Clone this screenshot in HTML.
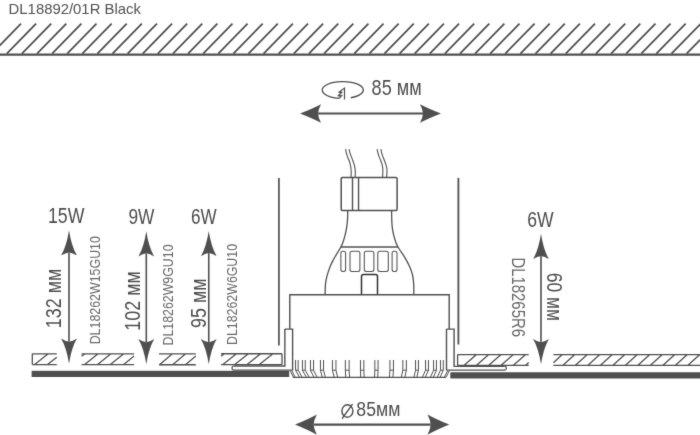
<!DOCTYPE html>
<html><head><meta charset="utf-8"><style>
html,body{margin:0;padding:0;background:#fff;}
svg{display:block;font-family:"Liberation Sans",sans-serif;will-change:transform;}
</style></head><body>
<svg width="700" height="435" viewBox="0 0 700 435">
<defs><filter id="b" x="0" y="0" width="700" height="435" filterUnits="userSpaceOnUse"><feConvolveMatrix order="3" kernelMatrix="0.01 0.08 0.01 0.08 0.64 0.08 0.01 0.08 0.01" edgeMode="duplicate"/></filter></defs>
<rect width="700" height="435" fill="#fff"/>
<g filter="url(#b)">
<path d="M-8.30 53.6L21.00 23.7 M6.81 53.6L36.11 23.7 M21.91 53.6L51.21 23.7 M37.02 53.6L66.32 23.7 M52.12 53.6L81.42 23.7 M67.23 53.6L96.53 23.7 M82.34 53.6L111.64 23.7 M97.44 53.6L126.74 23.7 M112.55 53.6L141.85 23.7 M127.65 53.6L156.95 23.7 M142.76 53.6L172.06 23.7 M157.87 53.6L187.17 23.7 M172.97 53.6L202.27 23.7 M188.08 53.6L217.38 23.7 M203.18 53.6L232.48 23.7 M218.29 53.6L247.59 23.7 M233.40 53.6L262.70 23.7 M248.50 53.6L277.80 23.7 M263.61 53.6L292.91 23.7 M278.71 53.6L308.01 23.7 M293.82 53.6L323.12 23.7 M308.93 53.6L338.23 23.7 M324.03 53.6L353.33 23.7 M339.14 53.6L368.44 23.7 M354.24 53.6L383.54 23.7 M369.35 53.6L398.65 23.7 M384.46 53.6L413.76 23.7 M399.56 53.6L428.86 23.7 M414.67 53.6L443.97 23.7 M429.77 53.6L459.07 23.7 M444.88 53.6L474.18 23.7 M459.99 53.6L489.29 23.7 M475.09 53.6L504.39 23.7 M490.20 53.6L519.50 23.7 M505.30 53.6L534.60 23.7 M520.41 53.6L549.71 23.7 M535.52 53.6L564.82 23.7 M550.62 53.6L579.92 23.7 M565.73 53.6L595.03 23.7 M580.83 53.6L610.13 23.7 M595.94 53.6L625.24 23.7 M611.05 53.6L640.35 23.7 M626.15 53.6L655.45 23.7 M641.26 53.6L670.56 23.7 M656.36 53.6L685.66 23.7 M671.47 53.6L700.77 23.7 M686.58 53.6L715.88 23.7 M701.68 53.6L730.98 23.7" stroke="#505050" stroke-width="1.75" fill="none"/>
<line x1="0" y1="54.55" x2="700" y2="54.55" stroke="#505050" stroke-width="2.2"/>
<line x1="318" y1="113.5" x2="423" y2="113.5" stroke="#505050" stroke-width="2.2"/><path d="M300.00 113.50 Q313.02 118.61 321.00 122.80 Q318.30 117.69 318.00 113.50 Q318.30 109.31 321.00 104.20 Q313.02 108.39 300.00 113.50Z" fill="#505050"/><path d="M441.00 113.50 Q427.98 108.39 420.00 104.20 Q422.70 109.31 423.00 113.50 Q422.70 117.69 420.00 122.80 Q427.98 118.61 441.00 113.50Z" fill="#505050"/>
<path d="M339.3 98.28 A20.6 8.4 0 1 1 350.7 97.75" stroke="#505050" stroke-width="1.3" fill="none"/>
<path d="M339.3 98.28 L341.6 95.6 L337.9 96.0 L342.2 92.0 L338.5 92.5 L344.5 88.1 L344.5 99.5" stroke="#505050" stroke-width="1.2" fill="none" stroke-linejoin="miter" stroke-miterlimit="3"/>
<g stroke="#4e4e4e" stroke-width="1.45" fill="none"><ellipse cx="347.4" cy="411" rx="5.5" ry="6.2"/><line x1="342.1" y1="418.6" x2="352.5" y2="404.1"/></g>
<line x1="313.6" y1="424.6" x2="430.7" y2="424.6" stroke="#505050" stroke-width="2.2"/><path d="M295.00 424.60 Q308.52 430.21 316.80 434.80 Q313.90 429.19 313.60 424.60 Q313.90 420.01 316.80 414.40 Q308.52 418.99 295.00 424.60Z" fill="#505050"/><path d="M449.30 424.60 Q435.78 418.99 427.50 414.40 Q430.40 420.01 430.70 424.60 Q430.40 429.19 427.50 434.80 Q435.78 430.21 449.30 424.60Z" fill="#505050"/>
<line x1="278.9" y1="177.9" x2="278.9" y2="345.6" stroke="#505050" stroke-width="1.7"/>
<line x1="458.4" y1="177.9" x2="458.4" y2="344.5" stroke="#505050" stroke-width="1.8"/>
<g stroke="#505050" stroke-width="1.1" fill="none"><path d="M345.60 149.10 C345.70 149.63 345.90 151.08 346.20 152.30 C346.50 153.52 346.92 155.03 347.40 156.40 C347.88 157.77 348.62 159.12 349.10 160.50 C349.58 161.88 349.98 163.32 350.30 164.70 C350.62 166.08 350.85 167.43 351.00 168.80 C351.15 170.17 351.20 171.47 351.20 172.90 C351.20 174.33 351.03 176.65 351.00 177.40"/><path d="M349.10 149.10 C349.22 149.63 349.45 151.08 349.80 152.30 C350.15 153.52 350.70 155.03 351.20 156.40 C351.70 157.77 352.30 159.12 352.80 160.50 C353.30 161.88 353.82 163.32 354.20 164.70 C354.58 166.08 354.92 167.43 355.10 168.80 C355.28 170.17 355.30 171.47 355.30 172.90 C355.30 174.33 355.13 176.65 355.10 177.40"/><path d="M377.10 149.10 C377.22 149.63 377.48 151.08 377.80 152.30 C378.12 153.52 378.52 155.03 379.00 156.40 C379.48 157.77 380.18 159.12 380.70 160.50 C381.22 161.88 381.75 163.32 382.10 164.70 C382.45 166.08 382.68 167.43 382.80 168.80 C382.92 170.17 382.83 171.47 382.80 172.90 C382.77 174.33 382.63 176.65 382.60 177.40"/><path d="M380.90 149.10 C381.00 149.63 381.18 151.08 381.50 152.30 C381.82 153.52 382.32 155.03 382.80 156.40 C383.28 157.77 383.88 159.12 384.40 160.50 C384.92 161.88 385.48 163.32 385.90 164.70 C386.32 166.08 386.73 167.43 386.90 168.80 C387.07 170.17 386.95 171.47 386.90 172.90 C386.85 174.33 386.65 176.65 386.60 177.40"/></g>
<rect x="341.2" y="177.4" width="55.9" height="33" rx="1.2" stroke="#505050" stroke-width="1.5" fill="none"/>
<line x1="352.5" y1="177.4" x2="352.5" y2="210.4" stroke="#505050" stroke-width="1.4"/>
<line x1="358.55" y1="177.4" x2="358.55" y2="210.4" stroke="#505050" stroke-width="1.4"/>
<path d="M347.70 210.40 C347.68 211.67 347.68 215.87 347.60 218.00 C347.52 220.13 347.38 221.48 347.20 223.20 C347.02 224.92 346.78 226.62 346.50 228.30 C346.22 229.98 345.88 231.62 345.50 233.30 C345.12 234.98 344.70 236.70 344.20 238.40 C343.70 240.10 343.05 242.07 342.50 243.50 C341.95 244.93 341.52 245.83 340.90 247.00 C340.28 248.17 339.63 249.12 338.80 250.50 C337.97 251.88 336.88 253.62 335.90 255.30 C334.92 256.98 333.82 258.83 332.90 260.60 C331.98 262.37 331.13 264.15 330.40 265.90 C329.67 267.65 329.08 269.35 328.50 271.10 C327.92 272.85 327.35 274.63 326.90 276.40 C326.45 278.17 326.07 279.93 325.80 281.70 C325.53 283.47 325.42 284.82 325.30 287.00 C325.18 289.18 325.13 293.50 325.10 294.80" stroke="#505050" stroke-width="1.3" fill="none"/>
<path d="M391.60 210.40 C391.62 211.67 391.65 215.87 391.70 218.00 C391.75 220.13 391.78 221.48 391.90 223.20 C392.02 224.92 392.17 226.62 392.40 228.30 C392.63 229.98 392.93 231.62 393.30 233.30 C393.67 234.98 394.10 236.70 394.60 238.40 C395.10 240.10 395.73 242.07 396.30 243.50 C396.87 244.93 397.35 245.83 398.00 247.00 C398.65 248.17 399.28 249.12 400.20 250.50 C401.12 251.88 402.43 253.62 403.50 255.30 C404.57 256.98 405.63 258.83 406.60 260.60 C407.57 262.37 408.50 264.15 409.30 265.90 C410.10 267.65 410.82 269.35 411.40 271.10 C411.98 272.85 412.45 274.63 412.80 276.40 C413.15 278.17 413.33 279.93 413.50 281.70 C413.67 283.47 413.75 284.82 413.80 287.00 C413.85 289.18 413.80 293.50 413.80 294.80" stroke="#505050" stroke-width="1.3" fill="none"/>
<line x1="340.9" y1="247" x2="398" y2="247" stroke="#505050" stroke-width="1.45"/>
<rect x="340.9" y="251.3" width="4.7" height="20.1" rx="2" stroke="#505050" stroke-width="1.05" fill="none"/>
<rect x="350.0" y="251.3" width="9.9" height="20.1" rx="2" stroke="#505050" stroke-width="1.05" fill="none"/>
<rect x="364.3" y="251.3" width="9.6" height="20.1" rx="2" stroke="#505050" stroke-width="1.05" fill="none"/>
<rect x="377.8" y="251.3" width="10.5" height="20.1" rx="2" stroke="#505050" stroke-width="1.05" fill="none"/>
<rect x="392.1" y="251.3" width="4.9" height="20.1" rx="2" stroke="#505050" stroke-width="1.05" fill="none"/>
<path d="M361.5 294.8 V276.6 Q361.5 274.55 363.5 274.55 H375.5 Q377.5 274.55 377.5 276.6 V294.8" stroke="#333" stroke-width="1.5" fill="none"/>
<path d="M289.8 329.1 V294.76 H449.2 V329.1" stroke="#505050" stroke-width="1.4" fill="none"/>
<path d="M284.85 329.1 H292.6 V370.2 M284.85 329.1 V366.0 H233.6" stroke="#505050" stroke-width="1.4" fill="none"/>
<path d="M446.5 329.1 H454.1 V366.4 H504.6 M446.5 329.1 V370.2" stroke="#505050" stroke-width="1.4" fill="none"/>
<path d="M292.6 370.1 H233.8 Q232 370.1 232 368.05 Q232 366.0 233.8 366.0" stroke="#505050" stroke-width="1.1" fill="none"/>
<path d="M446.5 370.1 H504.6 Q506.4 370.1 506.4 368.25 Q506.4 366.4 504.6 366.4" stroke="#505050" stroke-width="1.2" fill="none"/>
<path d="M295.55 360 V370.2 L299.55 377.2 M298.15 360 V370.2 L302.15 377.2 M295.55 370.2 H298.15 M302.45 360 V370.2 L306.35 377.2 M305.25 360 V370.2 L309.15 377.2 M302.45 370.2 H305.25 M310.45 360 V370.2 L313.95 377.2 M313.55 360 V370.2 L317.05 377.2 M310.45 370.2 H313.55 M320.45 360 V370.2 L322.25 377.2 M323.55 360 V370.2 L325.35 377.2 M320.45 370.2 H323.55 M332.45 360 V370.2 L334.15 377.2 M335.95 360 V370.2 L337.65 377.2 M332.45 370.2 H335.95 M345.35 360 V370.2 L345.75 377.2 M349.15 360 V370.2 L349.55 377.2 M345.35 370.2 H349.15 M360.45 360 V370.2 L360.75 377.2 M363.85 360 V370.2 L364.15 377.2 M360.45 370.2 H363.85 M374.85 360 V370.2 L374.55 377.2 M378.05 360 V370.2 L377.75 377.2 M374.85 370.2 H378.05 M389.95 360 V370.2 L389.45 377.2 M393.45 360 V370.2 L392.95 377.2 M389.95 370.2 H393.45 M402.85 360 V370.2 L401.35 377.2 M406.35 360 V370.2 L404.85 377.2 M402.85 370.2 H406.35 M415.55 360 V370.2 L413.95 377.2 M418.45 360 V370.2 L416.85 377.2 M415.55 370.2 H418.45 M425.55 360 V370.2 L422.45 377.2 M428.45 360 V370.2 L425.35 377.2 M425.55 370.2 H428.45 M433.55 360 V370.2 L430.45 377.2 M436.45 360 V370.2 L433.35 377.2 M433.55 370.2 H436.45 M440.45 360 V370.2 L437.35 377.2 M443.25 360 V370.2 L440.15 377.2 M440.45 370.2 H443.25 M290.3 370.8 L293.4 377.2 M291.9 370.6 L295.1 377.2 M447.7 370.6 L444.3 377.2 M449.4 370.6 L446 377.2" stroke="#505050" stroke-width="1" fill="none"/>
<line x1="292.9" y1="377.3" x2="446" y2="377.3" stroke="#505050" stroke-width="1.2"/>
<path d="M32.3 353.85H56.8 M32.3 364.6H56.8 M32.3 353.85V364.6 M34.60 364.60L48.20 353.85 M47.50 364.60L56.80 357.25" stroke="#505050" stroke-width="1.3" fill="none"/>
<path d="M81.6 353.95H134.1 M81.6 364.65H134.1 M81.60 356.36L84.60 353.95 M84.40 364.65L97.70 353.95 M97.30 364.65L110.60 353.95 M110.10 364.65L123.40 353.95 M123.40 364.65L134.10 356.04" stroke="#505050" stroke-width="1.3" fill="none"/>
<path d="M159.0 353.85H195.8 M159.0 364.75H195.8 M159.50 364.75L172.40 353.85 M172.70 364.75L185.60 353.85 M185.50 364.75L195.80 356.05" stroke="#505050" stroke-width="1.3" fill="none"/>
<path d="M221.1 353.75H282.0 M221.1 364.6H282.0 M282.0 353.75V364.6 M221.10 356.16L224.10 353.75 M222.90 364.60L236.40 353.75 M234.80 364.60L248.30 353.75 M247.10 364.60L260.60 353.75 M259.40 364.60L272.90 353.75" stroke="#505050" stroke-width="1.3" fill="none"/>
<path d="M457.6 354.6H528.7 M457.6 365.4H528.7 M457.6 354.6V365.4 M463.90 365.40L476.50 354.60 M476.20 365.40L488.80 354.60 M488.50 365.40L501.10 354.60 M500.80 365.40L513.40 354.60 M513.10 365.40L525.70 354.60 M525.40 365.40L528.70 362.57" stroke="#505050" stroke-width="1.3" fill="none"/>
<path d="M553.4 354.6H701 M553.4 365.3H701 M553.40 362.67L562.30 354.60 M563.00 365.30L574.80 354.60 M575.50 365.30L587.30 354.60 M588.00 365.30L599.80 354.60 M600.50 365.30L612.30 354.60 M613.00 365.30L624.80 354.60 M625.50 365.30L637.30 354.60 M638.00 365.30L649.80 354.60 M650.50 365.30L662.30 354.60 M663.00 365.30L674.80 354.60 M675.50 365.30L687.30 354.60 M688.00 365.30L699.80 354.60 M700.50 365.30L701.00 364.85" stroke="#505050" stroke-width="1.3" fill="none"/>
<rect x="31.6" y="370.8" width="257.6" height="6.2" fill="#505050"/>
<path d="M451 372.3 H700 V378.4 H451 Q450.3 378.4 450.3 377.7 V373 Q450.3 372.3 451 372.3Z" fill="#505050"/>
<line x1="69.0" y1="252.40000000000003" x2="69.0" y2="341.59999999999997" stroke="#505050" stroke-width="1.6"/><path d="M69.00 230.30 Q66.63 245.99 61.10 255.60 Q65.44 252.70 69.00 252.40 Q72.56 252.70 76.90 255.60 Q71.37 245.99 69.00 230.30Z" fill="#505050"/><path d="M69.00 363.70 Q71.37 348.01 76.90 338.40 Q72.56 341.30 69.00 341.60 Q65.44 341.30 61.10 338.40 Q66.63 348.01 69.00 363.70Z" fill="#505050"/>
<line x1="146.3" y1="253.3" x2="146.3" y2="342.2" stroke="#505050" stroke-width="1.6"/><path d="M146.30 231.20 Q143.93 246.89 138.40 256.50 Q142.75 253.60 146.30 253.30 Q149.86 253.60 154.20 256.50 Q148.67 246.89 146.30 231.20Z" fill="#505050"/><path d="M146.30 364.30 Q148.67 348.61 154.20 339.00 Q149.86 341.90 146.30 342.20 Q142.75 341.90 138.40 339.00 Q143.93 348.61 146.30 364.30Z" fill="#505050"/>
<line x1="208.75" y1="253.10000000000002" x2="208.75" y2="342.2" stroke="#505050" stroke-width="1.6"/><path d="M208.75 231.00 Q206.38 246.69 200.85 256.30 Q205.19 253.40 208.75 253.10 Q212.31 253.40 216.65 256.30 Q211.12 246.69 208.75 231.00Z" fill="#505050"/><path d="M208.75 364.30 Q211.12 348.61 216.65 339.00 Q212.31 341.90 208.75 342.20 Q205.19 341.90 200.85 339.00 Q206.38 348.61 208.75 364.30Z" fill="#505050"/>
<line x1="541" y1="255.90000000000003" x2="541" y2="342.2" stroke="#505050" stroke-width="1.6"/><path d="M541.00 233.80 Q538.63 249.49 533.10 259.10 Q537.45 256.20 541.00 255.90 Q544.55 256.20 548.90 259.10 Q543.37 249.49 541.00 233.80Z" fill="#505050"/><path d="M541.00 364.30 Q543.37 348.61 548.90 339.00 Q544.55 341.90 541.00 342.20 Q537.45 341.90 533.10 339.00 Q538.63 348.61 541.00 364.30Z" fill="#505050"/>
<text x="8.60" y="13.60" font-size="14.95" fill="#525252" textLength="132.30" lengthAdjust="spacingAndGlyphs">DL18892/01R Black</text>
<text x="371.61" y="95.00" font-size="21.34" fill="#4e4e4e" textLength="50.01" lengthAdjust="spacingAndGlyphs">85 мм</text>
<text x="356.36" y="416.32" font-size="19.38" fill="#4e4e4e" textLength="44.03" lengthAdjust="spacingAndGlyphs">85мм</text>
<text x="48.02" y="223.20" font-size="21.34" fill="#4e4e4e" textLength="36.45" lengthAdjust="spacingAndGlyphs">15W</text>
<text x="128.49" y="224.20" font-size="21.26" fill="#4e4e4e" textLength="25.92" lengthAdjust="spacingAndGlyphs">9W</text>
<text x="191.10" y="224.20" font-size="21.29" fill="#4e4e4e" textLength="25.61" lengthAdjust="spacingAndGlyphs">6W</text>
<text x="527.17" y="226.60" font-size="21.25" fill="#4e4e4e" textLength="26.40" lengthAdjust="spacingAndGlyphs">6W</text>
<text transform="translate(61.00 328.19) rotate(-90)" font-size="21.24" fill="#4e4e4e" textLength="59.46" lengthAdjust="spacingAndGlyphs">132 мм</text>
<text transform="translate(99.50 344.34) rotate(-90)" font-size="13.86" fill="#686868" textLength="108.24" lengthAdjust="spacingAndGlyphs">DL18262W15GU10</text>
<text transform="translate(139.90 330.64) rotate(-90)" font-size="21.28" fill="#4e4e4e" textLength="59.55" lengthAdjust="spacingAndGlyphs">102 мм</text>
<text transform="translate(173.20 345.53) rotate(-90)" font-size="13.86" fill="#686868" textLength="101.05" lengthAdjust="spacingAndGlyphs">DL18262W9GU10</text>
<text transform="translate(205.50 327.90) rotate(-90)" font-size="21.28" fill="#4e4e4e" textLength="49.53" lengthAdjust="spacingAndGlyphs">95 мм</text>
<text transform="translate(236.50 344.93) rotate(-90)" font-size="13.88" fill="#686868" textLength="100.98" lengthAdjust="spacingAndGlyphs">DL18262W6GU10</text>
<text transform="translate(511.70 257.40) rotate(90)" font-size="17.53" fill="#686868" textLength="79.60" lengthAdjust="spacingAndGlyphs">DL18265R6</text>
<text transform="translate(547.39 272.85) rotate(90)" font-size="21.38" fill="#4e4e4e" textLength="48.16" lengthAdjust="spacingAndGlyphs">60 мм</text>
</g>
</svg>
</body></html>
